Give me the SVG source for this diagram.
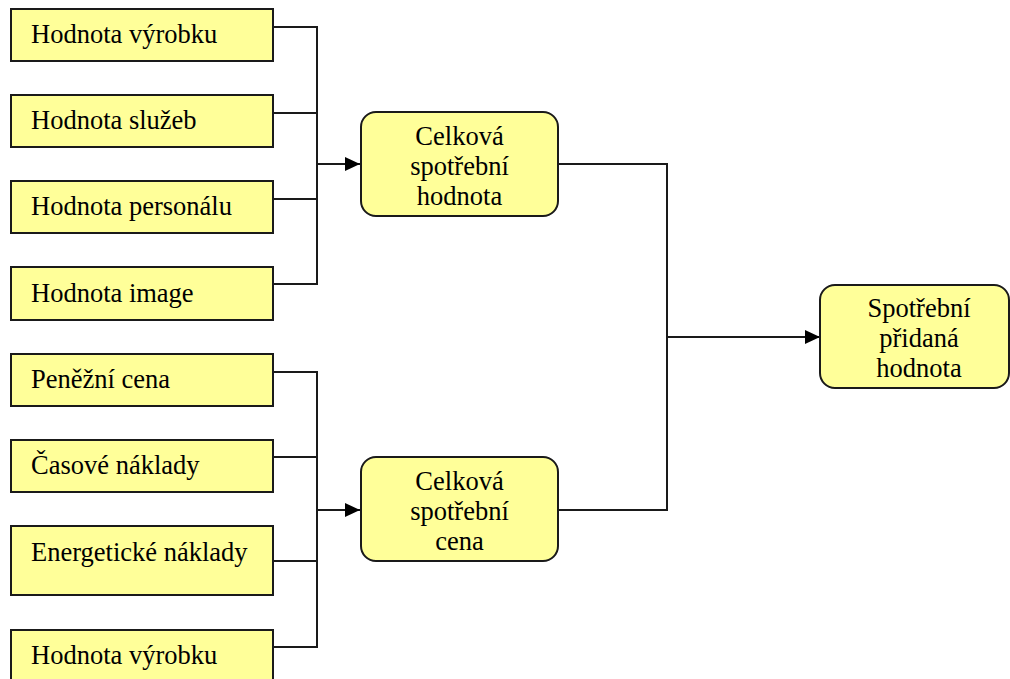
<svg xmlns="http://www.w3.org/2000/svg" width="1010" height="679" viewBox="0 0 1010 679">
<style>
  .box { fill: #FFFF99; stroke: #1a1a1a; stroke-width: 2; }
  .t { font-family: 'Liberation Serif', 'Times New Roman', serif; font-size: 26.5px; fill: #000; }
  .c { text-anchor: middle; }
  .ln { fill: none; stroke: #1a1a1a; stroke-width: 2; }
</style>
<defs>
  <marker id="arr" markerWidth="15" markerHeight="14" refX="15" refY="7" orient="auto" markerUnits="userSpaceOnUse">
    <path d="M0,0 L15,7 L0,14 Z" fill="#000"/>
  </marker>
</defs>
<rect width="1010" height="679" fill="#fff"/>

<g id="connectors">
  <polyline class="ln" points="273,27 317,27 317,284 273,284"/>
  <line class="ln" x1="273" y1="113" x2="317" y2="113"/>
  <line class="ln" x1="273" y1="199" x2="317" y2="199"/>
  <line class="ln" x1="317" y1="164" x2="360" y2="164" marker-end="url(#arr)"/>
  <polyline class="ln" points="273,372 317,372 317,647 273,647"/>
  <line class="ln" x1="273" y1="457" x2="317" y2="457"/>
  <line class="ln" x1="273" y1="561" x2="317" y2="561"/>
  <line class="ln" x1="317" y1="510" x2="360" y2="510" marker-end="url(#arr)"/>
  <polyline class="ln" points="558,164 667,164 667,510 558,510"/>
  <line class="ln" x1="667" y1="337" x2="820" y2="337" marker-end="url(#arr)"/>
</g>

<g id="n1"><rect class="box" x="11" y="9" width="262" height="52"/><text class="t" x="31" y="43">Hodnota výrobku</text></g>
<g id="n2"><rect class="box" x="11" y="95" width="262" height="52"/><text class="t" x="31" y="129">Hodnota služeb</text></g>
<g id="n3"><rect class="box" x="11" y="181" width="262" height="52"/><text class="t" x="31" y="215">Hodnota personálu</text></g>
<g id="n4"><rect class="box" x="11" y="267" width="262" height="53"/><text class="t" x="31" y="302">Hodnota image</text></g>
<g id="n5"><rect class="box" x="11" y="354" width="262" height="52"/><text class="t" x="31" y="388">Peněžní cena</text></g>
<g id="n6"><rect class="box" x="11" y="440" width="262" height="52"/><text class="t" x="31" y="474">Časové náklady</text></g>
<g id="n7"><rect class="box" x="11" y="526" width="262" height="69"/><text class="t" x="31" y="561">Energetické náklady</text></g>
<g id="n8"><rect class="box" x="11" y="630" width="262" height="54"/><text class="t" x="31" y="664">Hodnota výrobku</text></g>

<g id="m1"><rect class="box" x="361" y="112" width="197" height="104" rx="15"/>
  <text class="t c" x="459.5" y="145">Celková</text>
  <text class="t c" x="459.5" y="175">spotřební</text>
  <text class="t c" x="459.5" y="205">hodnota</text></g>
<g id="m2"><rect class="box" x="361" y="457" width="197" height="104" rx="15"/>
  <text class="t c" x="459.5" y="490">Celková</text>
  <text class="t c" x="459.5" y="520">spotřební</text>
  <text class="t c" x="459.5" y="550">cena</text></g>
<g id="r1"><rect class="box" x="820" y="285" width="189" height="103" rx="15"/>
  <text class="t c" x="919" y="317">Spotřební</text>
  <text class="t c" x="919" y="347">přidaná</text>
  <text class="t c" x="919" y="377">hodnota</text></g>
</svg>
